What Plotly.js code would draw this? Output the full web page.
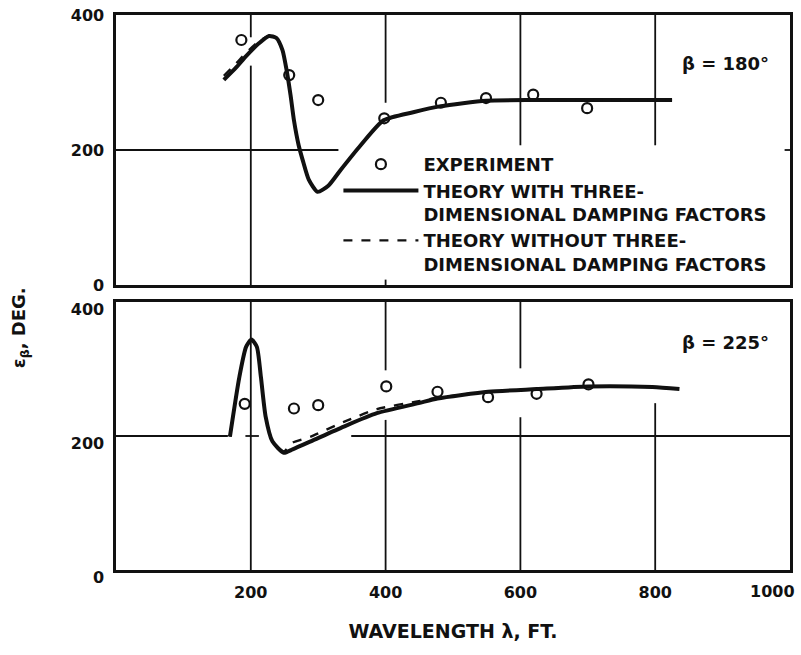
<!DOCTYPE html>
<html>
<head>
<meta charset="utf-8">
<script src="https://cdn.plot.ly/plotly-3.0.1.min.js"></script>
<style>
  html, body { margin: 0; padding: 0; background: #fff; }
  #chart { width: 801px; height: 655px; }
</style>
</head>
<body>
<div id="chart"></div>
<script>
// ---- Heading angle 180 deg: measured phase and theory curves ----
const expWaveTop   = [186, 257, 300, 398, 482, 549, 619, 699];
const expPhaseTop  = [363, 311, 274, 247, 270, 277, 282, 262];

const waveTop      = [160, 178, 193, 212, 227, 238, 247, 253, 259, 264, 271, 277, 286, 299, 315, 333, 363, 397, 441, 482, 549, 619, 718, 825];
const with3DTop    = [304, 322, 339, 358, 369, 366, 348, 319, 281, 244, 207, 185, 156, 138, 147, 170, 207, 244, 256, 265, 273, 274, 274, 274];
const without3DTop = [310, 328, 344, 361, 369, 366, 348, 319, 281, 244, 207, 185, 156, 138, 147, 170, 207, 244, 256, 265, 273, 274, 274, 274];

// ---- Heading angle 225 deg ----
const expWaveBot   = [191, 264, 300, 401, 477, 552, 624, 701];
const expPhaseBot  = [248, 241, 246, 274, 266, 258, 263, 277];

const waveBot      = [169, 183, 193, 201, 209, 215, 222, 232, 249, 262, 289, 338, 387, 449, 477, 552, 624, 701, 796, 836];
const with3DBot    = [199, 288, 333, 344, 333, 288, 229, 192, 175, 180, 192, 214, 234, 249, 256, 266, 270, 274, 273, 270];
const without3DBot = [199, 288, 333, 344, 333, 288, 229, 192, 177, 190, 199, 221, 240, 252, 257, 266, 270, 274, 273, 270];

const xTickVals  = [200, 400, 600, 800];
const xTickText  = ['200', '400', '600', '800'];
const xEndLabel  = '1000';
const yTickVals  = [0, 200, 400];
const yTickText  = ['0', '200', '400'];

const legendNames = [
  'EXPERIMENT',
  'THEORY WITH THREE-<br>DIMENSIONAL DAMPING FACTORS',
  'THEORY WITHOUT THREE-<br>DIMENSIONAL DAMPING FACTORS'
];
const panelLabels = ['\u03B2 = 180\u00B0', '\u03B2 = 225\u00B0'];

// Hand-drafted grid: each rule is broken where it would run into the curves or the key.
// [orientation, at, from, to] in axis units.
const gridTop = [
  ['h', 200, 0, 330], ['h', 200, 992, 1000],
  ['v', 200, 0, 325], ['v', 200, 367, 400],
  ['v', 400, 0, 8],   ['v', 400, 270, 400],
  ['v', 600, 207, 400],
  ['v', 800, 207, 400]
];
const gridBot = [
  ['h', 200, 0, 166], ['h', 200, 192, 212], ['h', 200, 349, 1000],
  ['v', 200, 0, 400],
  ['v', 400, 0, 224], ['v', 400, 298, 400],
  ['v', 600, 0, 228], ['v', 600, 301, 400],
  ['v', 800, 0, 249]
];

const FONT = 'DejaVu Sans, Liberation Sans, sans-serif';
const INK = '#111';

const markerStyle = { symbol: 'circle-open', size: 10, color: INK, line: { width: 2.2, color: INK } };
const solidLine  = { color: INK, width: 4, shape: 'spline', smoothing: 0.6 };
const dashedLine = { color: INK, width: 2.4, dash: 'dash', shape: 'spline', smoothing: 0.6 };

const traces = [
  { x: expWaveTop, y: expPhaseTop, xaxis: 'x', yaxis: 'y', mode: 'markers',
    name: legendNames[0], marker: markerStyle, showlegend: true },
  { x: waveTop, y: with3DTop, xaxis: 'x', yaxis: 'y', mode: 'lines',
    name: legendNames[1], line: solidLine, showlegend: true },
  { x: waveTop, y: without3DTop, xaxis: 'x', yaxis: 'y', mode: 'lines',
    name: legendNames[2], line: dashedLine, showlegend: true },

  { x: expWaveBot, y: expPhaseBot, xaxis: 'x2', yaxis: 'y2', mode: 'markers',
    name: legendNames[0], marker: markerStyle, showlegend: false },
  { x: waveBot, y: with3DBot, xaxis: 'x2', yaxis: 'y2', mode: 'lines',
    name: legendNames[1], line: solidLine, showlegend: false },
  { x: waveBot, y: without3DBot, xaxis: 'x2', yaxis: 'y2', mode: 'lines',
    name: legendNames[2], line: dashedLine, showlegend: false }
];

const tickFont = { family: FONT, size: 16, color: INK, weight: 'bold' };

function xAxis(anchor, labels) {
  return {
    domain: [0, 1], anchor: anchor, range: [0, 1000],
    tickvals: xTickVals, ticktext: xTickText, showticklabels: labels,
    ticks: '', ticklabelstandoff: 6, tickfont: tickFont,
    showgrid: false,
    showline: true, mirror: true, linecolor: INK, linewidth: 2.6,
    zeroline: false, fixedrange: true
  };
}
function yAxis(anchor, domain, shift) {
  return {
    domain: domain, anchor: anchor, range: [0, 400],
    tickvals: yTickVals, ticktext: yTickText,
    ticks: '', ticklabelstandoff: 6, ticklabelshift: shift, tickfont: tickFont,
    showgrid: false,
    showline: true, mirror: true, linecolor: INK, linewidth: 2.6,
    zeroline: false, fixedrange: true
  };
}

function gridShapes(rules, xref, yref) {
  return rules.map(function (r) {
    const s = { type: 'line', layer: 'below', xref: xref, yref: yref,
                line: { color: INK, width: 1.8 } };
    if (r[0] === 'h') { s.x0 = r[2]; s.x1 = r[3]; s.y0 = r[1]; s.y1 = r[1]; }
    else              { s.x0 = r[1]; s.x1 = r[1]; s.y0 = r[2]; s.y1 = r[3]; }
    return s;
  });
}

const xBottom = xAxis('y2', true);
xBottom.title = { text: 'WAVELENGTH \u03BB, FT.', font: { family: FONT, size: 19, color: INK, weight: 'bold' }, standoff: 24 };

const layout = {
  width: 801, height: 655,
  margin: { l: 116, r: 11, t: 15, b: 85 },
  paper_bgcolor: '#fff', plot_bgcolor: 'rgba(0,0,0,0)',
  font: { family: FONT, color: INK },
  xaxis: xAxis('y', false),
  yaxis: yAxis('x', [0.5135, 1], 0),
  xaxis2: xBottom,
  yaxis2: yAxis('x2', [0, 0.4829], 7),
  showlegend: true,
  legend: {
    x: 0.33, y: 0.764, xanchor: 'left', yanchor: 'top',
    bgcolor: 'rgba(0,0,0,0)', borderwidth: 0,
    font: { family: FONT, size: 18, color: INK, weight: 'bold' },
    valign: 'top', itemwidth: 75, tracegroupgap: 0,
    traceorder: 'normal'
  },
  shapes: gridShapes(gridTop, 'x', 'y').concat(gridShapes(gridBot, 'x2', 'y2')),
  annotations: [
    { text: panelLabels[0], xref: 'x domain', yref: 'y domain', x: 0.905, y: 0.822,
      xanchor: 'center', yanchor: 'middle', showarrow: false,
      font: { family: FONT, size: 18, color: INK, weight: 'bold' } },
    { text: panelLabels[1], xref: 'x2 domain', yref: 'y2 domain', x: 0.905, y: 0.847,
      xanchor: 'center', yanchor: 'middle', showarrow: false,
      font: { family: FONT, size: 18, color: INK, weight: 'bold' } },
    { text: xEndLabel, xref: 'x2', yref: 'y2 domain', x: 1000, y: 0,
      xanchor: 'right', yanchor: 'top', xshift: 7, yshift: -10, showarrow: false,
      font: tickFont },
    { text: '\u03B5<sub>\u03B2</sub>, DEG.', xref: 'paper', yref: 'paper', x: -0.142, y: 0.436,
      xanchor: 'center', yanchor: 'middle', textangle: -90, showarrow: false,
      font: { family: FONT, size: 18, color: INK, weight: 'bold' } }
  ]
};

Plotly.newPlot('chart', traces, layout, { displayModeBar: false, staticPlot: true });
</script>
</body>
</html>
